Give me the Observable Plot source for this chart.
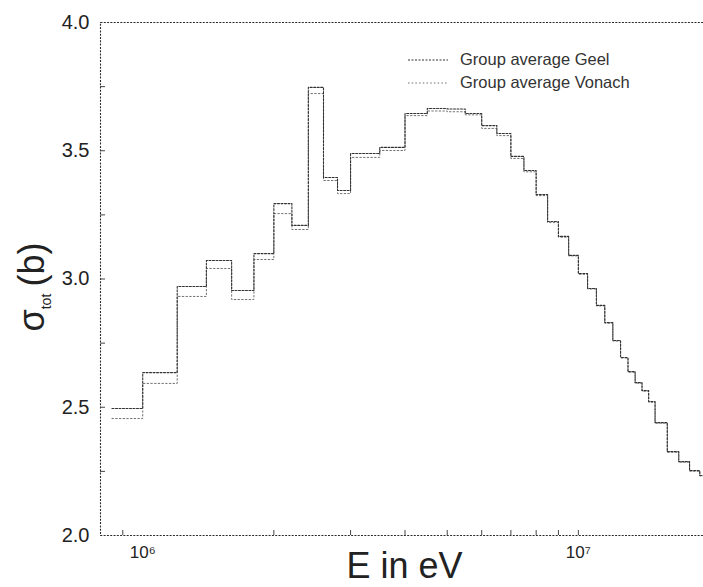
<!DOCTYPE html>
<html>
<head>
<meta charset="utf-8">
<script src="https://cdn.jsdelivr.net/npm/d3@7"></script>
<script src="https://cdn.jsdelivr.net/npm/@observablehq/plot@0.6"></script>
<style>
  html, body { margin: 0; padding: 0; background: #fff; overflow: hidden; }
  #chart { position: relative; width: 703px; height: 587px; overflow: hidden; }
  #chart > svg { position: absolute; left: 0; top: 0; max-width: none; }
  .legend { position: absolute; left: 408px; top: 48px; font: 16.5px "Liberation Sans", Arial, sans-serif; color: #333; }
  .legend .row { display: flex; align-items: center; height: 23px; white-space: nowrap; }
  .legend svg { margin-right: 12px; }
</style>
</head>
<body>
<div id="chart"></div>
<script>
// Energy group boundaries (MeV) and group-averaged total cross sections (barn)
const groupEdgesMeV = [0.85, 1.0, 1.2, 1.4, 1.6, 1.8, 2.0, 2.2, 2.4, 2.6,
  2.8, 3.0, 3.5, 4.0, 4.5, 5.0, 5.5, 6.0, 6.5, 7.0,
  7.5, 8.0, 8.5, 9.0, 9.5, 10, 10.5, 11, 11.5, 12,
  12.5, 13, 13.5, 14, 14.5, 15, 16, 17, 18, 19, 20];

const geel = [2.495, 2.635, 2.971, 3.072, 2.955, 3.099, 3.294, 3.209, 3.747, 3.396,
  3.345, 3.489, 3.513, 3.645, 3.665, 3.663, 3.645, 3.598, 3.567, 3.478,
  3.423, 3.329, 3.224, 3.166, 3.092, 3.021, 2.963, 2.897, 2.830, 2.760,
  2.694, 2.639, 2.596, 2.565, 2.522, 2.440, 2.327, 2.288, 2.253, 2.234];

const vonach = [2.456, 2.593, 2.932, 3.041, 2.920, 3.076, 3.255, 3.193, 3.723, 3.384,
  3.333, 3.474, 3.501, 3.637, 3.655, 3.652, 3.640, 3.587, 3.559, 3.470,
  3.418, 3.325, 3.220, 3.163, 3.090, 3.019, 2.961, 2.895, 2.828, 2.758,
  2.692, 2.637, 2.594, 2.563, 2.520, 2.438, 2.325, 2.286, 2.251, 2.232];

const seriesNames = ["Group average Geel", "Group average Vonach"];

const yTicks = [2.0, 2.5, 3.0, 3.5, 4.0];
const yTickLabels = ["2.0", "2.5", "3.0", "3.5", "4.0"];
const yMinorTicks = [2.25, 2.5, 2.75, 3.0, 3.25, 3.5, 3.75];

const xTicks = [1e6, 1e7];
const xTickLabels = ["10\u2076", "10\u2077"];
const xMinorTicks = [9e5, 2e6, 3e6, 4e6, 5e6, 6e6, 7e6, 8e6, 9e6, 1e7];

const xLabel = "E in eV";

// Turn group values into a step polyline: each group starts at its lower edge,
// and the last value is repeated at the upper edge of the final group.
function stepRows(values) {
  const rows = values.map((v, i) => ({E: groupEdgesMeV[i] * 1e6, sigma: v}));
  rows.push({E: groupEdgesMeV[groupEdgesMeV.length - 1] * 1e6, sigma: values[values.length - 1]});
  return rows;
}

const styles = [
  {stroke: "#333", strokeWidth: 1.1, strokeDasharray: "2,1.5"},
  {stroke: "#707070", strokeWidth: 1.0, strokeDasharray: "1.5,2.2"}
];

const font = '"Liberation Sans", Arial, sans-serif';

const chart = Plot.plot({
  width: 709,
  height: 587,
  marginLeft: 100,
  marginRight: 0,
  marginTop: 22,
  marginBottom: 52,
  style: {fontFamily: font, color: "#222", background: "transparent", overflow: "visible", maxWidth: "none"},
  x: {type: "log", domain: [8e5, 2e7], label: null},
  y: {domain: [2, 4], label: null},
  marks: [
    Plot.frame({stroke: "#2a2a2a", strokeWidth: 1.1, strokeDasharray: "2,1.3"}),
    // short inward ticks
    Plot.axisY(yMinorTicks, {tickSize: 5, dx: 5, tickFormat: () => "", label: null, stroke: "#444"}),
    Plot.axisX(xMinorTicks, {tickSize: 5, dy: -5, tickFormat: () => "", label: null, stroke: "#444"}),
    // tick labels
    Plot.axisY(yTicks, {tickSize: 0, tickPadding: 11, fontSize: 20, label: null,
      tickFormat: d => yTickLabels[yTicks.indexOf(d)]}),
    Plot.axisX(xTicks, {tickSize: 0, tickPadding: 10, fontSize: 17, label: null,
      tickFormat: d => xTickLabels[xTicks.indexOf(d)]}),
    Plot.line(stepRows(vonach), {x: "E", y: "sigma", curve: "step-after", ...styles[1]}),
    Plot.line(stepRows(geel), {x: "E", y: "sigma", curve: "step-after", ...styles[0]})
  ]
});

const host = document.getElementById("chart");
host.appendChild(chart);

// Axis titles
const svg = d3.select(chart);
const xr = chart.scale("x").range;
svg.append("text")
  .attr("x", (xr[0] + xr[1]) / 2)
  .attr("y", 578)
  .attr("text-anchor", "middle")
  .attr("font-family", font)
  .attr("font-size", 36)
  .attr("fill", "#222")
  .attr("textLength", 116)
  .attr("lengthAdjust", "spacingAndGlyphs")
  .text(xLabel);

const yTitle = svg.append("text")
  .attr("transform", "translate(44,287) rotate(-90)")
  .attr("text-anchor", "middle")
  .attr("font-family", font)
  .attr("font-size", 36)
  .attr("fill", "#222");
yTitle.append("tspan").text("\u03c3");
yTitle.append("tspan").attr("font-size", 14).attr("dy", 7).text("tot");
yTitle.append("tspan").attr("dy", -7).text("\u2009(b)");

// Legend inside the plotting area
const legend = document.createElement("div");
legend.className = "legend";
seriesNames.forEach((name, i) => {
  const row = document.createElement("div");
  row.className = "row";
  const s = styles[i];
  row.innerHTML = `<svg width="40" height="4"><line x1="0" x2="40" y1="2" y2="2" stroke="${s.stroke}" stroke-width="${s.strokeWidth}" stroke-dasharray="${s.strokeDasharray}"/></svg><span>${name}</span>`;
  legend.appendChild(row);
});
host.appendChild(legend);
</script>
</body>
</html>
